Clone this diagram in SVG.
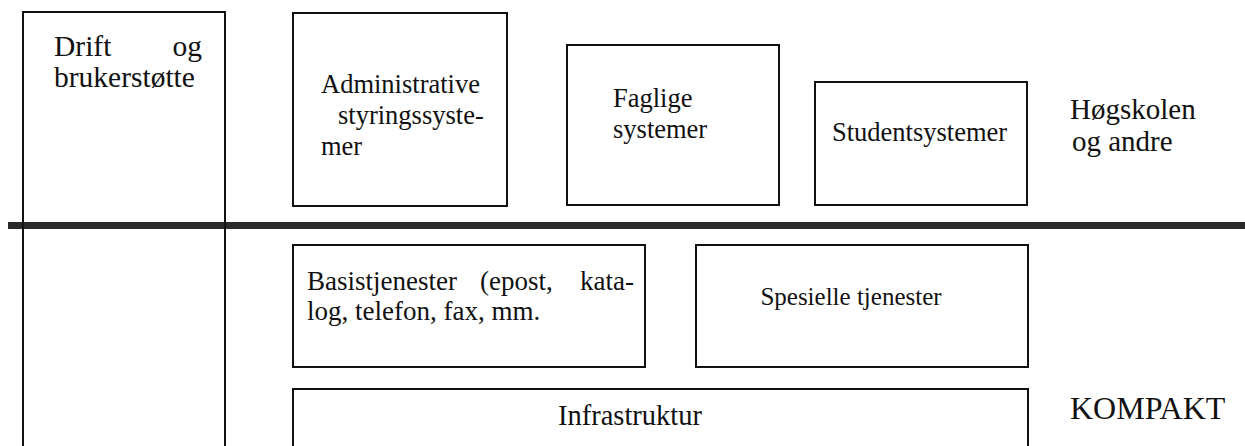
<svg xmlns="http://www.w3.org/2000/svg" width="1245" height="446" viewBox="0 0 1245 446">
<style>
.box{fill:none;stroke:#111;stroke-width:2}
text{font-family:'Liberation Serif','Times New Roman',serif;fill:#111}
.t{font-size:26.5px}
.l{font-size:29.5px}
.big{font-size:29px}
</style>
<rect width="1245" height="446" fill="#fff"/>
<g id="divider">
<rect x="8" y="222" width="1237" height="7" fill="#2a2a2a"/>
</g>
<g id="drift">
<path class="box" d="M23,450 V12 H225 V450"/>
<text class="l" x="54" y="56">Drift</text>
<text class="l" x="202" y="56" text-anchor="end">og</text>
<text class="l" x="54" y="87">brukerstøtte</text>
</g>
<g id="admin">
<rect class="box" x="293" y="13" width="214" height="193"/>
<text class="t" x="321" y="93">Administrative</text>
<text class="t" x="338" y="124">styringssyste-</text>
<text class="t" x="321" y="155">mer</text>
</g>
<g id="faglige">
<rect class="box" x="567" y="45" width="212" height="160"/>
<text class="t" x="613" y="107">Faglige</text>
<text class="t" x="613" y="138">systemer</text>
</g>
<g id="student">
<rect class="box" x="815" y="82" width="212" height="123"/>
<text class="t" x="832" y="141">Studentsystemer</text>
</g>
<g id="hogskolen">
<text class="big" x="1070" y="119">Høgskolen</text>
<text class="big" x="1072" y="151">og andre</text>
</g>
<g id="basis">
<rect class="box" x="293" y="245" width="352" height="122"/>
<text y="290" font-size="27"><tspan x="307">Basistjenester</tspan> <tspan x="480">(epost,</tspan> <tspan x="634" text-anchor="end">kata-</tspan></text>
<text x="307" y="320" font-size="27">log, telefon, fax, mm.</text>
</g>
<g id="spesielle">
<rect class="box" x="696" y="245" width="332" height="122"/>
<text x="851" y="305" font-size="25" text-anchor="middle">Spesielle tjenester</text>
</g>
<g id="infra">
<path class="box" d="M293,450 V389 H1028 V450"/>
<text x="630" y="425" font-size="28.5" text-anchor="middle">Infrastruktur</text>
</g>
<g id="kompakt">
<text x="1070" y="419" font-size="32">KOMPAKT</text>
</g>
<g id="connectors"></g>
</svg>
